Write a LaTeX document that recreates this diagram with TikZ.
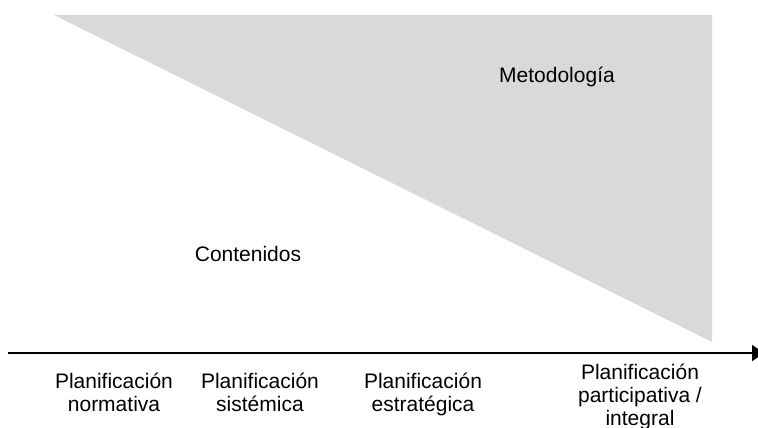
\documentclass[tikz,border=0pt]{standalone}
\usepackage{fontspec}
\setmainfont{Liberation Sans}
\usetikzlibrary{arrows.meta}
\begin{document}
\begin{tikzpicture}[x=1pt, y=-1pt]
        \tikzstyle{etiqueta}=[inner sep=0pt, align=center, anchor=base, font=\fontsize{21}{23}\selectfont]
        \tikzstyle{eje}=[line width=2pt, -{Triangle[length=12pt, width=16pt]}]
        \useasboundingbox (0,0) rectangle (758,428);
        % Triangulo
        \coordinate (izq) at (54,15);
        \coordinate (der) at (712,15);
        \coordinate (abajo) at (712,342);
        \fill[fill={rgb,255:red,217;green,217;blue,217}] (izq) -- (der) -- (abajo) -- cycle;
        \node[etiqueta] (metodologia) at (557,83) {Metodología};
        \node[etiqueta] (contenidos) at (248,261) {Contenidos};
        % Eje
        \coordinate (inicio) at (8,353);
        \coordinate (fin) at (764,353);
        \draw[eje] (inicio) -- (fin);
        \node[etiqueta] (normativa) at (114,411) {Planificación\\normativa};
        \node[etiqueta] (sistemica) at (260,411) {Planificación\\sistémica};
        \node[etiqueta] (estrategica) at (423,411) {Planificación\\estratégica};
        \node[etiqueta] (participativa) at (640,425) {Planificación\\participativa /\\integral};
    \end{tikzpicture}
\end{document}
